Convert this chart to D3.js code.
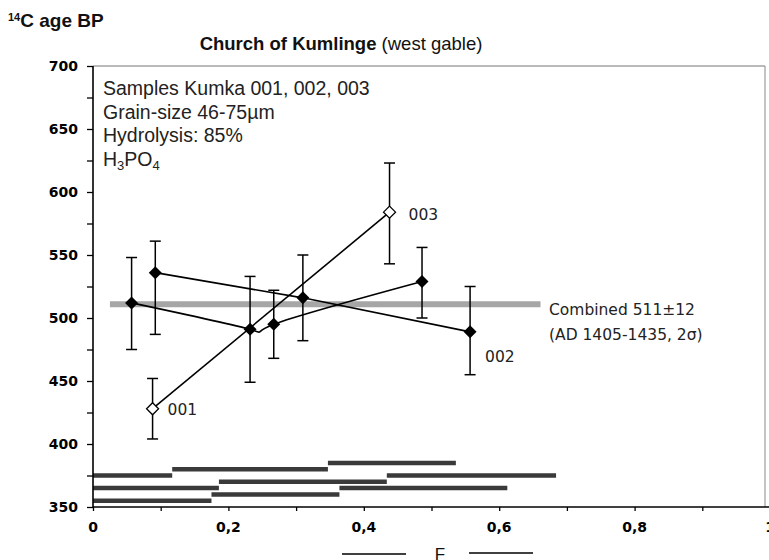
<!DOCTYPE html>
<html>
<head>
<meta charset="utf-8">
<script src="https://cdn.jsdelivr.net/npm/d3@7"></script>
<style>
  body { margin: 0; background: #fff; }
  svg { display: block; }
</style>
</head>
<body>
<svg id="chart"></svg>
<script>
// размеры страницы
const width = 769;
const height = 560;

// кривая (сглаженная), заполненные ромбы
const curveF = [0.057, 0.232, 0.267, 0.486];
const curveAge = [512, 491, 495, 529];
const curveLo = [475, 449, 468, 500];
const curveHi = [548, 533, 522, 556];

// линия 002, заполненные ромбы
const line002F = [0.092, 0.31, 0.557];
const line002Age = [536, 516, 489];
const line002Lo = [487, 482, 455];
const line002Hi = [561, 550, 525];

// линия 001 -> 003, пустые ромбы
const line003F = [0.088, 0.438];
const line003Age = [428, 584];
const line003Lo = [404, 543];
const line003Hi = [452, 623];

// фракции (горизонтальные полосы внизу)
const fracStart = [0, 0.117, 0.347, 0, 0.186, 0.434, 0, 0.175, 0.364];
const fracEnd = [0.117, 0.347, 0.536, 0.186, 0.434, 0.684, 0.175, 0.364, 0.612];
const fracAge = [375, 380, 385, 365, 370, 375, 355, 360, 365];

// комбинированный возраст
const combinedAge = 511;
const combinedF = [0.025, 0.661];

// подписи и деления
const xTicks = [0, 0.2, 0.4, 0.6, 0.8, 1];
const xMinor = d3.range(0, 1.01, 0.1);
const yTicks = [350, 400, 450, 500, 550, 600, 650, 700];
const yMinor = d3.range(350, 701, 25);
const notes = ['Samples Kumka 001, 002, 003', 'Grain-size 46-75µm', 'Hydrolysis: 85%'];

const svg = d3.select('#chart').attr('width', width).attr('height', height);

const x = d3.scaleLinear().domain([0, 1]).range([93, 770]);
const y = d3.scaleLinear().domain([350, 700]).range([507, 66]);

const zip = (f, a, lo, hi) => f.map((v, i) => ({f: v, age: a[i], lo: lo[i], hi: hi[i]}));
const curveData = zip(curveF, curveAge, curveLo, curveHi);
const data002 = zip(line002F, line002Age, line002Lo, line002Hi);
const data003 = zip(line003F, line003Age, line003Lo, line003Hi);

// рамка
svg.append('line').attr('x1', x(0)).attr('x2', 765).attr('y1', y(700)).attr('y2', y(700))
  .attr('stroke', '#777').attr('stroke-width', 1.2);
svg.append('line').attr('x1', 765).attr('x2', 765).attr('y1', y(700)).attr('y2', y(350))
  .attr('stroke', '#888').attr('stroke-width', 1);

// полосы фракций
svg.append('g').selectAll('line').data(fracStart).join('line')
  .attr('x1', (d, i) => x(d))
  .attr('x2', (d, i) => x(fracEnd[i]))
  .attr('y1', (d, i) => y(fracAge[i]))
  .attr('y2', (d, i) => y(fracAge[i]))
  .attr('stroke', '#3a3a3a').attr('stroke-width', 4.5);

// комбинированная полоса
svg.append('line')
  .attr('x1', x(combinedF[0])).attr('x2', x(combinedF[1]))
  .attr('y1', y(combinedAge)).attr('y2', y(combinedAge))
  .attr('stroke', '#a6a6a6').attr('stroke-width', 6);

// оси
const yAxis = svg.append('g').attr('transform', `translate(${x(0)},0)`)
  .call(d3.axisLeft(y).tickValues(yMinor).tickSize(6).tickFormat(''));
const xAxis = svg.append('g').attr('transform', `translate(0,${y(350)})`)
  .call(d3.axisBottom(x).tickValues(xMinor).tickSize(4).tickFormat(''));
[xAxis, yAxis].forEach(a => {
  a.select('.domain').attr('stroke', '#000').attr('stroke-width', 1.6);
  a.selectAll('.tick line').attr('stroke', '#000').attr('stroke-width', 1.3);
});
xAxis.select('.domain').attr('d', `M${x(0)},0H${x(1)}`);
yAxis.select('.domain').attr('d', `M0,${y(350)}V${y(700)}`);

svg.append('g').selectAll('text').data(yTicks).join('text')
  .attr('x', 78).attr('y', d => y(d) + 5)
  .attr('text-anchor', 'end')
  .style('font', 'bold 14px "DejaVu Sans"')
  .text(d => d);
svg.append('g').selectAll('text').data(xTicks).join('text')
  .attr('x', d => x(d)).attr('y', y(350) + 25)
  .attr('text-anchor', 'middle')
  .style('font', 'bold 14px "DejaVu Sans"')
  .text(d => d3.format('')(d).replace('.', ','));

// линии
const lineGen = d3.line().x(d => x(d.f)).y(d => y(d.age));
svg.append('path').datum(curveData)
  .attr('d', lineGen.curve(d3.curveNatural))
  .attr('fill', 'none').attr('stroke', '#000').attr('stroke-width', 1.6);
lineGen.curve(d3.curveLinear);
[data002, data003].forEach(ds => {
  svg.append('path').datum(ds).attr('d', lineGen)
    .attr('fill', 'none').attr('stroke', '#000').attr('stroke-width', 1.6);
});

// погрешности
const allPts = curveData.concat(data002, data003);
const err = svg.append('g').selectAll('g').data(allPts).join('g')
  .attr('stroke', '#000').attr('stroke-width', 1.5);
err.append('line').attr('x1', d => x(d.f)).attr('x2', d => x(d.f))
  .attr('y1', d => y(d.lo)).attr('y2', d => y(d.hi));
err.append('line').attr('x1', d => x(d.f) - 5.5).attr('x2', d => x(d.f) + 5.5)
  .attr('y1', d => y(d.lo)).attr('y2', d => y(d.lo));
err.append('line').attr('x1', d => x(d.f) - 5.5).attr('x2', d => x(d.f) + 5.5)
  .attr('y1', d => y(d.hi)).attr('y2', d => y(d.hi));

// ромбы
const diamond = r => `M0,${-r}L${r},0L0,${r}L${-r},0Z`;
svg.append('g').selectAll('path').data(curveData.concat(data002)).join('path')
  .attr('transform', d => `translate(${x(d.f)},${y(d.age)})`)
  .attr('d', diamond(6.5)).attr('fill', '#000');
svg.append('g').selectAll('path').data(data003).join('path')
  .attr('transform', d => `translate(${x(d.f)},${y(d.age)})`)
  .attr('d', diamond(6)).attr('fill', '#fff').attr('stroke', '#000').attr('stroke-width', 1.3);

// подписи образцов
const sampleFont = '15.5px "DejaVu Sans"';
[[data003[0], '001', 15, 6], [data002[2], '002', 15, 30], [data003[1], '003', 19, 8]].forEach(([d, t, dx, dy]) => {
  svg.append('text').attr('x', x(d.f) + dx).attr('y', y(d.age) + dy)
    .style('font', sampleFont).attr('fill', '#222').text(t);
});

// комбинированный возраст подпись
svg.append('text').attr('x', 549).attr('y', 315).style('font', sampleFont).attr('fill', '#222')
  .text('Combined 511±12');
svg.append('text').attr('x', 549).attr('y', 340).style('font', sampleFont).attr('fill', '#222')
  .text('(AD 1405-1435, 2σ)');

// заметки слева сверху
svg.append('g').selectAll('text').data(notes).join('text')
  .attr('x', 103).attr('y', (d, i) => 95 + i * 23.5)
  .style('font', '19.5px "Liberation Sans", Arial').attr('fill', '#222')
  .text(d => d);
const h3 = svg.append('text').attr('x', 103).attr('y', 166)
  .style('font', '19.5px "Liberation Sans", Arial').attr('fill', '#222');
h3.append('tspan').text('H');
h3.append('tspan').attr('dy', 4).style('font-size', '13px').text('3');
h3.append('tspan').attr('dy', -4).text('PO');
h3.append('tspan').attr('dy', 4).style('font-size', '13px').text('4');

// заголовок
const title = svg.append('text').attr('x', 341).attr('y', 50).attr('text-anchor', 'middle')
  .style('font', '18.5px "Liberation Sans", Arial').attr('fill', '#111');
title.append('tspan').style('font-weight', 'bold').text('Church of Kumlinge');
title.append('tspan').text(' (west gable)');

// подпись оси Y
const yl = svg.append('text').attr('x', 8).attr('y', 27)
  .style('font', '600 19px "Liberation Sans", Arial').attr('fill', '#111');
yl.append('tspan').attr('dy', -6).style('font-size', '11px').text('14');
yl.append('tspan').attr('dy', 6).text('C age BP');

// подпись оси X
svg.append('line').attr('x1', 342).attr('x2', 406).attr('y1', 554).attr('y2', 554)
  .attr('stroke', '#000').attr('stroke-width', 1.3);
svg.append('line').attr('x1', 469).attr('x2', 533).attr('y1', 553).attr('y2', 553)
  .attr('stroke', '#000').attr('stroke-width', 1.3);
svg.append('text').attr('x', 440).attr('y', 560).attr('text-anchor', 'middle')
  .style('font', '17px "Liberation Sans", Arial').attr('fill', '#111').text('F');
</script>
</body>
</html>
